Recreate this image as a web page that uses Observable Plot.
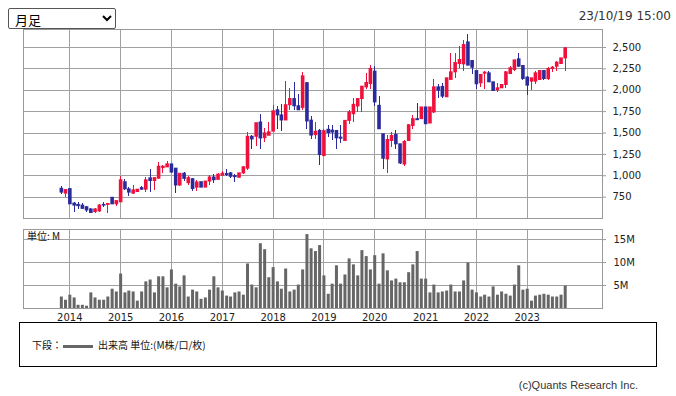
<!DOCTYPE html>
<html><head><meta charset="utf-8">
<script src="https://cdn.jsdelivr.net/npm/d3@7"></script>
<script src="https://cdn.jsdelivr.net/npm/@observablehq/plot@0.6"></script>
<style>
html,body{margin:0;padding:0;background:#fff}
body{width:676px;height:396px;position:relative;overflow:hidden;font-family:"DejaVu Sans",sans-serif}
#price,#vol{position:absolute;left:0}
#price{top:0}
#vol{top:225px}
#sel{position:absolute;left:8px;top:8px;width:108px;height:21px;font-size:13px;font-family:"Noto Sans CJK JP",sans-serif;border:1px solid #555;border-radius:2px;background:#fff;padding:0 2px;margin:0}
#stamp{position:absolute;right:5px;top:9px;font-size:12px;color:#333;font-family:"DejaVu Sans",sans-serif}
#unit{position:absolute;left:27px;top:230px;font-size:10px;color:#111;font-family:"Noto Sans CJK JP",sans-serif;line-height:12px}
#legend{position:absolute;left:19px;top:322px;width:636px;height:43px;border:1px solid #000}
#legend .t{position:absolute;top:16px;font-size:10px;line-height:12px;color:#111;font-family:"Noto Sans CJK JP",sans-serif}
#legend .sw{position:absolute;left:43px;top:22px;width:30px;height:3px;background:#666}
#copy{position:absolute;right:38px;top:379px;font-size:11px;color:#333;font-family:"Liberation Sans",sans-serif}
</style></head>
<body>
<select id="sel"><option>月足</option></select>
<div id="stamp">23/10/19 15:00</div>
<div id="price"></div>
<div id="vol"></div>
<div id="unit">単位: M</div>
<div id="legend"><span class="t" style="left:12px">下段：</span><span class="sw"></span><span class="t" style="left:78px">出来高 単位:(M株/口/枚)</span></div>
<div id="copy">(c)Quants Research Inc.</div>
<script>
// Monthly data, first month 2013-11, 120 months
const startMonth = "2013-11";
const open = [848,791,844,674,659,651,632,606,575,583,659,659,742,666,689,924,841,791,810,856,837,970,939,966,1091,1098,1133,1083,886,1024,
913,960,861,925,861,932,980,952,1000,1020,1028,996,976,1028,1083,1456,1456,1623,1440,1468,1516,1766,1706,1647,1825,1897,1813,1794,2083,1645,
1475,1525,1230,1538,1528,1524,1446,1407,1642,1720,1811,1897,2034,2073,2218,1818,1485,1191,1407,1478,1368,1132,1407,1583,1662,1662,1799,1611,1740,2034,
2039,1918,2121,2210,2307,2303,2560,2342,2225,2082,2194,2198,2093,2000,2023,2062,2190,2237,2362,2284,2148,2101,2101,2120,2225,2132,2249,2276,2307,2373];
const high = [879,833,844,689,682,670,644,613,621,663,685,670,750,704,992,951,860,890,837,879,985,1072,973,1159,1121,1167,1133,1083,1023,1040,
992,972,940,925,932,1004,1012,1032,1044,1079,1040,1012,1028,1111,1508,1468,1615,1718,1548,1627,1825,1813,1833,2099,2016,2091,1956,2210,2091,1690,
1620,1545,1540,1585,1583,1524,1583,1650,1760,1905,1905,2042,2191,2289,2281,1928,1485,1466,1505,1524,1368,1407,1603,1701,1850,1799,1799,1799,2124,2063,
2082,2140,2432,2432,2509,2587,2653,2342,2225,2179,2225,2225,2093,2082,2062,2225,2276,2350,2432,2284,2159,2140,2218,2225,2237,2264,2276,2334,2373,2498];
const low = [784,746,658,575,606,606,575,553,564,572,625,564,659,644,689,826,757,780,803,826,803,803,829,962,1030,1098,1030,795,871,933,
885,813,813,861,861,885,913,952,1000,992,972,925,976,1020,1060,1313,1345,1313,1389,1468,1516,1540,1520,1647,1766,1766,1766,1766,1536,1430,
1430,1115,1230,1446,1407,1309,1379,1407,1603,1622,1740,1740,2007,2007,1811,1536,1074,1027,1328,1309,1132,1113,1407,1536,1650,1662,1603,1611,1732,1899,
1907,1918,2121,2132,2257,2218,2288,2179,2004,2031,2004,2093,1984,1977,2023,2023,2179,2218,2264,2109,1934,1992,2062,2120,2120,2120,2206,2218,2307,2218];
const close = [803,833,666,651,644,613,594,564,606,651,651,670,666,704,947,841,803,829,837,837,947,939,973,1106,1106,1133,1038,886,1023,964,
972,845,921,861,932,980,948,1012,1024,1008,988,984,1028,1099,1456,1425,1615,1436,1496,1508,1754,1706,1647,1825,1897,1813,1766,2163,1635,1470,
1515,1242,1522,1500,1505,1438,1434,1642,1740,1830,1897,2042,2085,2250,1858,1544,1199,1419,1466,1368,1144,1395,1591,1662,1650,1799,1603,1799,2034,1995,
1926,2140,2210,2319,2354,2529,2288,2264,2070,2179,2206,2093,1992,2023,2062,2210,2257,2350,2276,2132,2054,2140,2198,2225,2132,2249,2264,2323,2373,2490];
const volume = [2.5,1.8,2.9,2.3,0.7,0.7,0.5,3.4,2.3,1.8,1.8,2.5,4.2,3.6,7.5,3.4,3.8,3.6,1.6,3.6,5.8,6.2,3.4,6.9,6.9,4.5,8.4,5.3,4.7,7.1,
2.5,4.0,3.6,2.0,2.3,4.0,6.9,4.5,3.8,2.7,2.5,3.4,3.6,2.9,9.7,5.1,4.5,14.1,12.8,6.7,8.9,5.8,4.2,8.6,3.6,4.0,5.1,8.4,16.1,13.0,
12.4,13.7,7.1,3.1,5.3,9.3,5.3,7.3,10.8,9.5,7.1,12.6,11.3,8.4,11.5,5.3,11.9,8.2,6.0,6.4,5.6,5.6,7.8,9.5,12.4,6.4,6.4,3.4,5.1,3.4,
3.6,3.8,5.1,3.6,3.6,6.0,9.9,4.0,3.4,2.5,2.9,2.5,4.7,2.9,3.6,3.1,2.7,5.1,9.3,4.0,4.2,1.6,2.7,2.9,3.1,2.9,2.5,2.5,2.9,4.9];
const yearTicks = [2014,2015,2016,2017,2018,2019,2020,2021,2022,2023];
const priceTicks = [750,1000,1250,1500,1750,2000,2250,2500];
const volumeTicks = [5,10,15];

const UP = "#f0103c", DOWN = "#2a2a9c", GRID = "#a0a0a0";
const [sy, sm] = startMonth.split("-").map(Number);
const data = open.map((o, i) => ({
  date: new Date(Date.UTC(sy, sm - 1 + i, 1)),
  open: o, high: high[i], low: low[i], close: close[i], volume: volume[i]
}));
const up = data.filter(d => d.close >= d.open);
const down = data.filter(d => d.close < d.open);
const yearDates = yearTicks.map(y => new Date(Date.UTC(y, 0, 1)));
const xDomain = [new Date(Date.UTC(2013, 1, 2)), new Date(Date.UTC(2024, 5, 25))];
const style = {fontFamily: "DejaVu Sans", fontSize: "10px", color: "#222", background: "transparent", overflow: "visible"};

function candles(set, color) {
  return [
    Plot.ruleX(set, {x: "date", y1: "high", y2: "low", stroke: color, strokeWidth: 1, shapeRendering: "crispEdges"}),
    Plot.ruleX(set, {x: "date", y1: d => Math.max(d.open, d.close), y2: d => Math.min(d.open, d.close),
      stroke: color, strokeWidth: 3.6, insetTop: -0.5, insetBottom: -0.5})
  ];
}

const price = Plot.plot({
  width: 676, height: 222, marginTop: 29, marginBottom: 4, marginLeft: 23, marginRight: 74,
  style,
  x: {type: "utc", domain: xDomain, axis: null},
  y: {domain: [500, 2711], axis: null},
  marks: [
    Plot.gridX(yearDates, {stroke: GRID, strokeOpacity: 1, shapeRendering: "crispEdges"}),
    Plot.gridY(priceTicks, {stroke: GRID, strokeOpacity: 1, shapeRendering: "crispEdges"}),
    Plot.axisY(priceTicks, {anchor: "right", tickSize: 3, tickPadding: 7, tickFormat: d3.format(","), stroke: "#999", fill: "#222", label: null}),
    Plot.frame({stroke: "#999", shapeRendering: "crispEdges"}),
    ...candles(up, UP),
    ...candles(down, DOWN)
  ]
});
document.getElementById("price").append(price);

const vol = Plot.plot({
  width: 676, height: 100, marginTop: 4, marginBottom: 17, marginLeft: 23, marginRight: 74,
  style,
  x: {type: "utc", domain: xDomain, axis: null},
  y: {domain: [0, 17.2], axis: null},
  marks: [
    Plot.gridX(yearDates, {stroke: GRID, strokeOpacity: 1, shapeRendering: "crispEdges"}),
    Plot.gridY(volumeTicks, {stroke: GRID, strokeOpacity: 1, shapeRendering: "crispEdges"}),
    Plot.axisY(volumeTicks, {anchor: "right", tickSize: 3, tickPadding: 8, tickFormat: d => d + "M", stroke: "#999", fill: "#222", label: null}),
    Plot.axisX(yearDates, {anchor: "bottom", tickSize: 0, tickPadding: 5, tickFormat: d => String(d.getUTCFullYear()), fill: "#222", label: null}),
    Plot.ruleX(data, {x: "date", y1: 0, y2: "volume", stroke: "#666", strokeWidth: 3}),
    Plot.frame({stroke: "#999", shapeRendering: "crispEdges"})
  ]
});
document.getElementById("vol").append(vol);
</script>
</body></html>
